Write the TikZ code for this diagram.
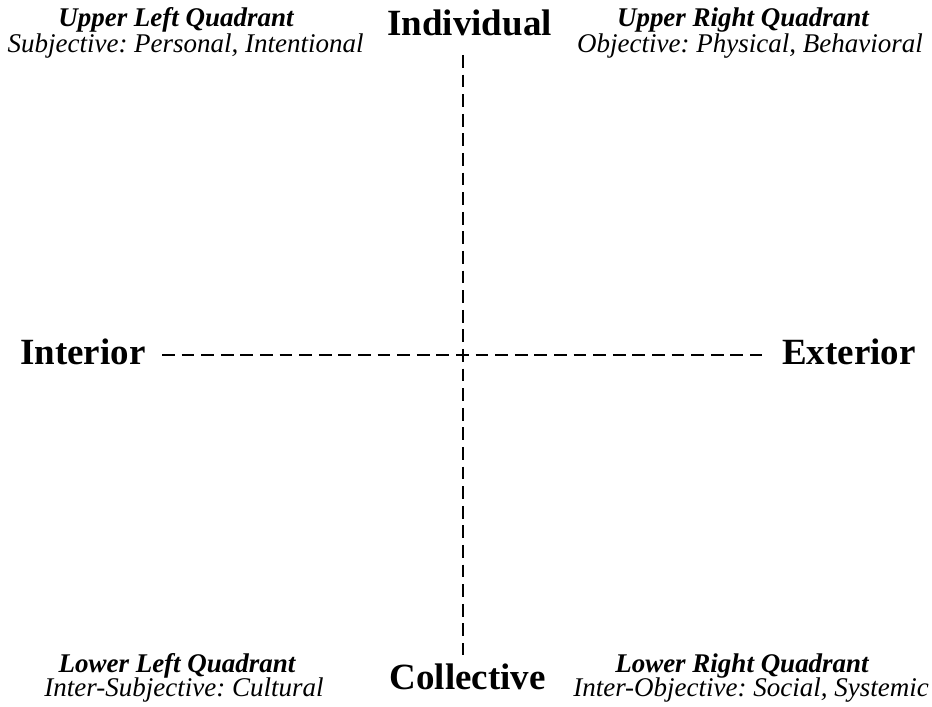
\documentclass[tikz,border=0pt]{standalone}
\usepackage{fontspec}
\setmainfont{Liberation Serif}
\frenchspacing
\tikzset{
	axislabel/.style={font=\fontsize{26.3}{30}\selectfont\bfseries, inner sep=0pt, anchor=base},
	quadtitle/.style={font=\fontsize{19.2}{22}\selectfont\bfseries\itshape, inner sep=0pt, text depth=0pt, anchor=base},
	quadsub/.style={font=\fontsize{19.2}{22}\selectfont\itshape, inner sep=0pt, anchor=base},
	axisline/.style={line width=1.7pt, dash pattern=on 0.32cm off 0.17cm}
}
\begin{document}
\begin{tikzpicture}
	\useasboundingbox (0,0) rectangle (23.3,17.675);
	% axis ends
	\coordinate (top) at (11.575,16.3);
	\coordinate (bottom) at (11.575,1.3);
	\coordinate (left) at (4.05,8.8);
	\coordinate (right) at (19.05,8.8);
	\draw[axisline] (top) -- (bottom);
	\draw[axisline] (left) -- (right);
	% axis labels
	\node[axislabel] (individual) at (11.74,16.775) {Individual};
	\node[axislabel] (collective) at (11.69,0.425) {Collective};
	\node[axislabel, anchor=base west] (interior) at (0.5,8.55) {Interior};
	\node[axislabel, anchor=base west] (exterior) at (19.55,8.55) {Exterior};
	% quadrants
	\node[quadtitle] (ul) at (4.4,17.0) {Upper Left Quadrant};
	\node[quadsub] (ulsub) at (4.64,16.35) {Subjective: Personal, Intentional};
	\node[quadtitle] (ur) at (18.575,17.0) {Upper Right Quadrant};
	\node[quadsub] (ursub) at (18.75,16.35) {Objective: Physical, Behavioral};
	\node[quadtitle] (ll) at (4.425,0.86) {Lower Left Quadrant};
	\node[quadsub] (llsub) at (4.6,0.25) {Inter-Subjective: Cultural};
	\node[quadtitle] (lr) at (18.55,0.86) {Lower Right Quadrant};
	\node[quadsub] (lrsub) at (18.775,0.25) {Inter-Objective: Social, Systemic};
\end{tikzpicture}
\end{document}
